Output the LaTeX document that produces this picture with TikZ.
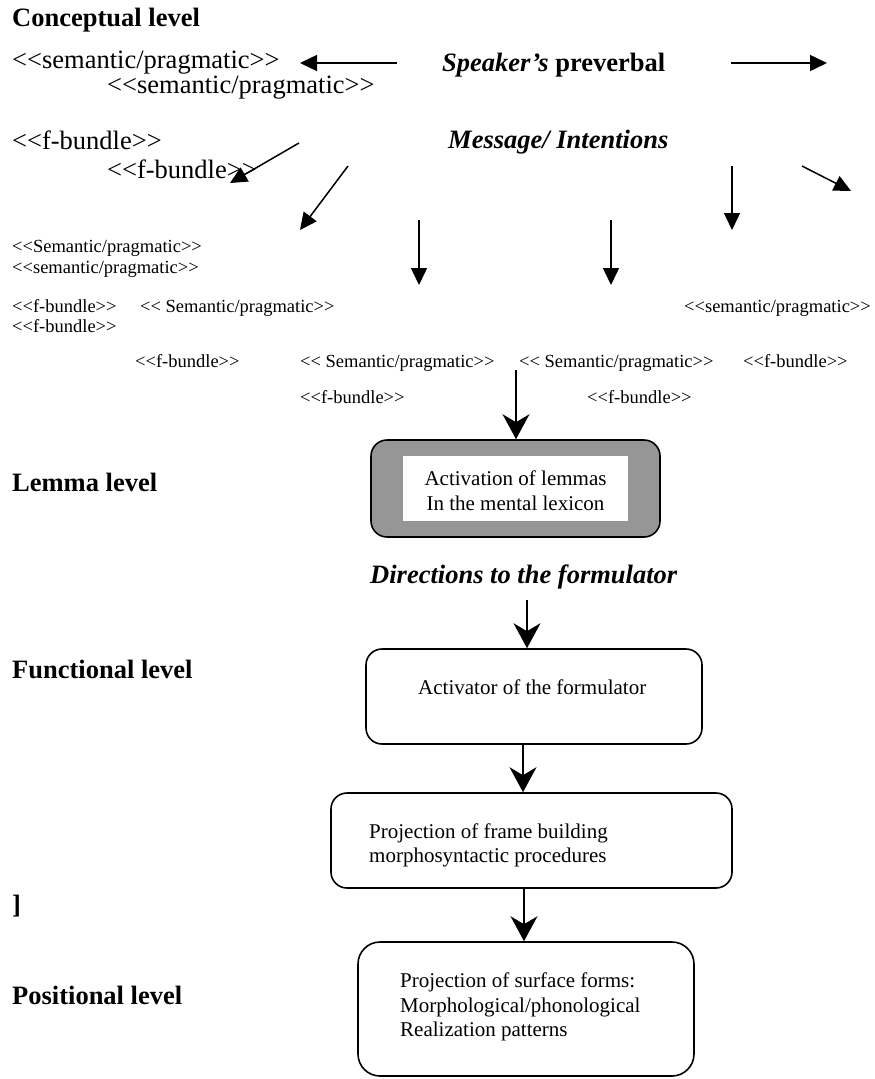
\documentclass[tikz,border=0pt]{standalone}
\usepackage{fontspec}
\setmainfont{Liberation Serif}
\usetikzlibrary{arrows.meta}
\newcommand\LL{<\kern0pt<}
\newcommand\GG{>\kern0pt>}
\definecolor{lemgray}{HTML}{969696}
\begin{document}
\begin{tikzpicture}[x=1pt,y=-1pt,
 big/.style={anchor=base west, inner sep=0pt, font=\fontsize{26.5}{30}\selectfont},
 bigb/.style={big, font=\fontsize{26.5}{30}\selectfont\bfseries},
 bigbi/.style={big, font=\fontsize{26.5}{30}\selectfont\bfseries\itshape},
 small/.style={anchor=base west, inner sep=0pt, font=\fontsize{18.5}{21}\selectfont},
 boxt/.style={anchor=base west, inner sep=0pt, font=\fontsize{21}{25}\selectfont},
 tri/.style={line width=1.5pt, -{Triangle[length=17pt,width=16pt]}},
 st/.style={line width=1.5pt, -{Stealth[length=25pt,width=27pt,inset=8pt]}},
 box/.style={draw, line width=1.6pt, rounded corners=16pt, inner sep=0pt}]
\useasboundingbox (0,0) rectangle (875,1079);

% level labels
\node[bigb] (conc) at (12,26) {Conceptual level};
\node[bigb] (lemlev) at (12,491) {Lemma level};
\node[bigb] (funlev) at (12,678) {Functional level};
\node[bigb] (brk) at (12,913) {]};
\node[bigb] (poslev) at (12,1004) {Positional level};

% conceptual texts
\node[big] (sp1) at (12,68) {\LL semantic/pragmatic\GG};
\node[big] (sp2) at (107,93) {\LL semantic/pragmatic\GG};
\node[big] (fb1) at (12,149) {\LL f-bundle\GG};
\node[big] (fb2) at (107,178) {\LL f-bundle\GG};
\node[big] (spk) at (442,71) {\textbf{\textit{Speaker’s}} \textbf{preverbal}};
\node[bigbi] (msg) at (448,148) {Message/ Intentions};

\node[small] (s1) at (12,252) {\LL Semantic/pragmatic\GG};
\node[small] (s2) at (12,273) {\LL semantic/pragmatic\GG};
\node[small] (s3) at (12,312) {\LL f-bundle\GG};
\node[small] (s4) at (140,312) {\LL{} Semantic/pragmatic\GG};
\node[small] (s5) at (684,312) {\LL semantic/pragmatic\GG};
\node[small] (s6) at (12,332) {\LL f-bundle\GG};
\node[small] (s7) at (135,367) {\LL f-bundle\GG};
\node[small] (s8) at (300,367) {\LL{} Semantic/pragmatic\GG};
\node[small] (s9) at (519,367) {\LL{} Semantic/pragmatic\GG};
\node[small] (s10) at (743,367) {\LL f-bundle\GG};
\node[small] (s11) at (300,403) {\LL f-bundle\GG};
\node[small] (s12) at (587,403) {\LL f-bundle\GG};

% arrow end points in the conceptual area
\coordinate (a1s) at (397,63);  \coordinate (a1e) at (300,63);
\coordinate (a2s) at (731,63);  \coordinate (a2e) at (827,63);
\coordinate (a3s) at (299,143); \coordinate (a3e) at (230,183);
\coordinate (a4s) at (348,166); \coordinate (a4e) at (300,230);
\coordinate (a5s) at (419,220); \coordinate (a5e) at (419,285);
\coordinate (a6s) at (611,220); \coordinate (a6e) at (611,285);
\coordinate (a7s) at (732,166); \coordinate (a7e) at (732,230);
\coordinate (a8s) at (802,166); \coordinate (a8e) at (851,191);
\draw[tri] (a1s) -- (a1e);
\draw[tri] (a2s) -- (a2e);
\draw[tri] (a3s) -- (a3e);
\draw[tri] (a4s) -- (a4e);
\draw[tri] (a5s) -- (a5e);
\draw[tri] (a6s) -- (a6e);
\draw[tri] (a7s) -- (a7e);
\draw[tri] (a8s) -- (a8e);

% lemma box
\node[box, fill=lemgray, minimum width=289pt, minimum height=97pt] (lemma) at (515.5,488.5) {};
\node[fill=white, inner sep=0pt, minimum width=225pt, minimum height=65pt] (lemin) at (515.5,488.5) {};
\node[boxt, anchor=base] (l1) at (515.5,485) {Activation of lemmas};
\node[boxt, anchor=base] (l2) at (515.5,510) {In the mental lexicon};

\node[bigbi] (dir) at (370,583) {Directions to the formulator};

% activator box
\node[box, minimum width=336pt, minimum height=95pt] (act) at (534,696.5) {};
\node[boxt] (actt) at (418,694) {Activator of the formulator};

% projection box
\node[box, minimum width=401pt, minimum height=95pt] (proj) at (531.5,840.5) {};
\node[boxt] (pr1) at (369,838) {Projection of frame building};
\node[boxt] (pr2) at (369,862) {morphosyntactic procedures};

% surface box
\node[box, rounded corners=22pt, minimum width=336pt, minimum height=134pt] (surf) at (526,1009) {};
\node[boxt] (su1) at (400,987) {Projection of surface forms:};
\node[boxt] (su2) at (400,1012) {Morphological/phonological};
\node[boxt] (su3) at (400,1036) {Realization patterns};

% main arrows
\coordinate (b1) at (516,370);
\coordinate (b2) at (527,600);
\coordinate (b3) at (523,744);
\coordinate (b4) at (524,888);
\draw[st] (b1) -- (b1 |- lemma.north);
\draw[st] (b2) -- (b2 |- act.north);
\draw[st] (b3) -- (b3 |- proj.north);
\draw[st] (b4) -- (b4 |- surf.north);
\end{tikzpicture}
\end{document}
